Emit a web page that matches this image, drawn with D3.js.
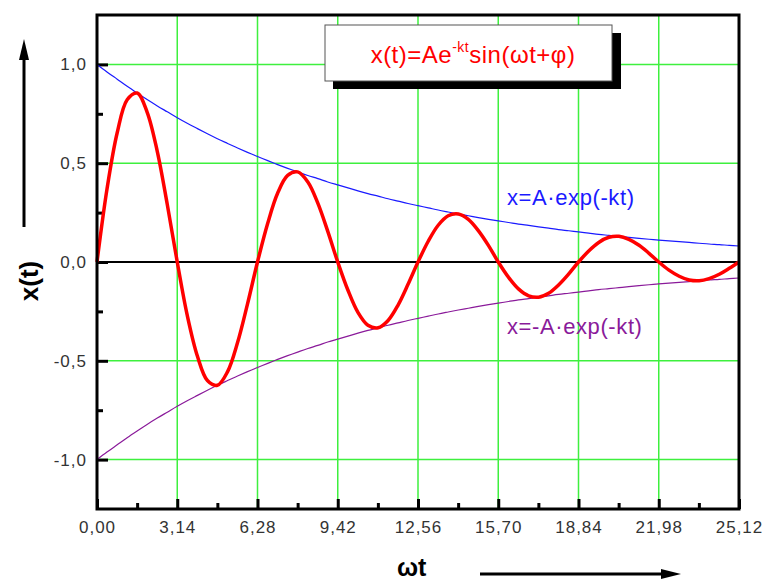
<!DOCTYPE html>
<html>
<head>
<meta charset="utf-8">
<script src="https://cdn.jsdelivr.net/npm/d3@7"></script>
<style>
  body { margin: 0; background: #fff; }
  svg { display: block; font-family: Arial, "Liberation Sans", sans-serif; }
  .tick text { font-size: 17px; letter-spacing: 1px; font-family: Arial, "Liberation Sans", sans-serif; }
</style>
</head>
<body>
<div id="chart"></div>
<script>
// sample points (omega*t)
var tVals = [0, 0.39, 0.79, 1.18, 1.57, 1.96, 2.36, 2.75, 3.14, 3.53, 3.93, 4.32, 4.71, 5.11, 5.50, 5.89,
  6.28, 6.68, 7.07, 7.46, 7.85, 8.25, 8.64, 9.03, 9.42, 9.82, 10.21, 10.60, 11.00, 11.39, 11.78, 12.17,
  12.56, 12.96, 13.35, 13.74, 14.14, 14.53, 14.92, 15.32, 15.70, 16.10, 16.49, 16.89, 17.28, 17.67, 18.06, 18.46,
  18.84, 19.24, 19.63, 20.03, 20.42, 20.81, 21.21, 21.60, 21.98, 22.38, 22.78, 23.17, 23.56, 23.95, 24.35, 24.74, 25.12];

// damped oscillation x(t)
var xVals = [0, 0.368, 0.654, 0.821, 0.855, 0.759, 0.559, 0.291, 0, -0.269, -0.477, -0.600, -0.624, -0.555, -0.408, -0.212,
  0, 0.196, 0.349, 0.438, 0.456, 0.405, 0.298, 0.155, 0, -0.143, -0.255, -0.320, -0.333, -0.296, -0.218, -0.113,
  0, 0.105, 0.186, 0.234, 0.243, 0.216, 0.159, 0.083, 0, -0.077, -0.136, -0.171, -0.178, -0.158, -0.116, -0.060,
  0, 0.056, 0.099, 0.125, 0.130, 0.115, 0.085, 0.044, 0, -0.041, -0.072, -0.091, -0.095, -0.084, -0.062, -0.032, 0];

// upper envelope A*exp(-kt)
var envVals = [1.000, 0.962, 0.925, 0.889, 0.855, 0.822, 0.790, 0.760, 0.730, 0.702, 0.675, 0.649, 0.624, 0.600, 0.577, 0.555,
  0.534, 0.513, 0.493, 0.474, 0.456, 0.438, 0.422, 0.405, 0.390, 0.375, 0.360, 0.346, 0.333, 0.320, 0.308, 0.296,
  0.285, 0.274, 0.263, 0.253, 0.243, 0.234, 0.225, 0.216, 0.208, 0.200, 0.192, 0.185, 0.178, 0.171, 0.164, 0.158,
  0.152, 0.146, 0.140, 0.135, 0.130, 0.125, 0.120, 0.115, 0.111, 0.107, 0.103, 0.099, 0.095, 0.091, 0.088, 0.084, 0.081];

// lower envelope -A*exp(-kt)
var negEnvVals = [-1.000, -0.962, -0.925, -0.889, -0.855, -0.822, -0.790, -0.760, -0.730, -0.702, -0.675, -0.649, -0.624, -0.600, -0.577, -0.555,
  -0.534, -0.513, -0.493, -0.474, -0.456, -0.438, -0.422, -0.405, -0.390, -0.375, -0.360, -0.346, -0.333, -0.320, -0.308, -0.296,
  -0.285, -0.274, -0.263, -0.253, -0.243, -0.234, -0.225, -0.216, -0.208, -0.200, -0.192, -0.185, -0.178, -0.171, -0.164, -0.158,
  -0.152, -0.146, -0.140, -0.135, -0.130, -0.125, -0.120, -0.115, -0.111, -0.107, -0.103, -0.099, -0.095, -0.091, -0.088, -0.084, -0.081];

var xTicks = [0, 3.14, 6.28, 9.42, 12.56, 15.70, 18.84, 21.98, 25.12];
var xMinorTicks = [1.57, 4.71, 7.85, 10.99, 14.13, 17.27, 20.41, 23.55];
var yTicks = [-1.0, -0.5, 0.0, 0.5, 1.0];
var yMinorTicks = [-0.75, -0.25, 0.25, 0.75];

var width = 764, height = 581;
var plotL = 97, plotR = 739, plotT = 15, plotB = 509;

var svg = d3.select("#chart").append("svg")
  .attr("width", width)
  .attr("height", height);

var x = d3.scaleLinear().domain([0, 25.12]).range([plotL, plotR]);
var y = d3.scaleLinear().domain([-1.25, 1.25]).range([plotB, plotT]);

// green grid
var grid = svg.append("g").attr("stroke", "#3ef03e").attr("stroke-width", 1.5);
grid.selectAll("line.v")
  .data(xTicks.slice(1, -1))
  .enter().append("line")
  .attr("x1", function(d) { return x(d); })
  .attr("x2", function(d) { return x(d); })
  .attr("y1", plotT).attr("y2", plotB);
grid.selectAll("line.h")
  .data(yTicks.filter(function(d) { return d != 0; }))
  .enter().append("line")
  .attr("y1", function(d) { return y(d); })
  .attr("y2", function(d) { return y(d); })
  .attr("x1", plotL).attr("x2", plotR);

// zero line
svg.append("line")
  .attr("x1", plotL).attr("x2", plotR)
  .attr("y1", y(0)).attr("y2", y(0))
  .attr("stroke", "#000").attr("stroke-width", 2);

var fmtX = function(d) { return d3.format(".2f")(d).replace(".", ","); };
var fmtY = function(d) { return d3.format(".1f")(d).replace(".", ",").replace("−", "-"); };

// axes with inward ticks
var xAxis = svg.append("g")
  .attr("transform", "translate(0," + plotB + ")")
  .call(d3.axisBottom(x).tickValues(xTicks).tickFormat(fmtX).tickSizeInner(-10).tickSizeOuter(0).tickPadding(12));
var xMinor = svg.append("g")
  .attr("transform", "translate(0," + plotB + ")")
  .call(d3.axisBottom(x).tickValues(xMinorTicks).tickFormat("").tickSizeInner(-6).tickSizeOuter(0));

var yAxis = svg.append("g")
  .attr("transform", "translate(" + plotL + ",0)")
  .call(d3.axisLeft(y).tickValues(yTicks).tickFormat(fmtY).tickSizeInner(-11).tickSizeOuter(0).tickPadding(10));
var yMinor = svg.append("g")
  .attr("transform", "translate(" + plotL + ",0)")
  .call(d3.axisLeft(y).tickValues(yMinorTicks).tickFormat("").tickSizeInner(-6).tickSizeOuter(0));

[xAxis, xMinor, yAxis, yMinor].forEach(function(g) {
  g.attr("font-size", 17).attr("font-family", "Arial, 'Liberation Sans', sans-serif");
  g.select(".domain").remove();
  g.selectAll(".tick line").attr("stroke", "#000").attr("stroke-width", 3);
  g.selectAll(".tick text").attr("fill", "#333").attr("font-size", 17);
});

// curves
var pts = function(vals) { return vals.map(function(v, i) { return [tVals[i], v]; }); };
var line = d3.line()
  .x(function(d) { return x(d[0]); })
  .y(function(d) { return y(d[1]); })
  .curve(d3.curveCatmullRom);

svg.append("path").attr("d", line(pts(envVals)))
  .attr("fill", "none").attr("stroke", "#1a1aff").attr("stroke-width", 1.2);
svg.append("path").attr("d", line(pts(negEnvVals)))
  .attr("fill", "none").attr("stroke", "#8a1a9a").attr("stroke-width", 1.2);
svg.append("path").attr("d", line(pts(xVals)))
  .attr("fill", "none").attr("stroke", "#ff0000").attr("stroke-width", 3.5)
  .attr("stroke-linejoin", "round");

// frame
svg.append("rect")
  .attr("x", plotL).attr("y", plotT)
  .attr("width", plotR - plotL).attr("height", plotB - plotT)
  .attr("fill", "none").attr("stroke", "#000").attr("stroke-width", 3);

// formula box with shadow
svg.append("rect").attr("x", 333).attr("y", 33).attr("width", 288).attr("height", 56).attr("fill", "#000");
svg.append("rect").attr("x", 325).attr("y", 25).attr("width", 287).attr("height", 56)
  .attr("fill", "#fff").attr("stroke", "#555").attr("stroke-width", 1);
var title = svg.append("text")
  .attr("x", 473).attr("y", 63)
  .attr("text-anchor", "middle")
  .attr("fill", "#ff0000")
  .style("font-size", "24px")
  .style("letter-spacing", "0.5px");
title.append("tspan").text("x(t)=Ae");
title.append("tspan").attr("dy", -11).style("font-size", "14px").text("-kt");
title.append("tspan").attr("dy", 11).text("sin(ωt+φ)");

// envelope labels
svg.append("text").attr("x", 507).attr("y", 205)
  .attr("fill", "#1a1aff").style("font-size", "22px").style("letter-spacing", "0.6px")
  .text("x=A·exp(-kt)");
svg.append("text").attr("x", 507).attr("y", 334)
  .attr("fill", "#8a1a9a").style("font-size", "22px").style("letter-spacing", "0.6px")
  .text("x=-A·exp(-kt)");

// axis titles and arrows
svg.append("text")
  .attr("transform", "translate(38,281) rotate(-90)")
  .attr("text-anchor", "middle")
  .style("font-size", "26px").style("font-weight", "bold")
  .text("x(t)");
svg.append("line").attr("x1", 24).attr("x2", 24).attr("y1", 227).attr("y2", 55)
  .attr("stroke", "#000").attr("stroke-width", 3);
svg.append("path").attr("d", "M24,39 L19,60 L29,60 Z").attr("fill", "#000");

svg.append("text")
  .attr("x", 397).attr("y", 576)
  .style("font-size", "25px").style("font-weight", "bold")
  .text("ωt");
svg.append("line").attr("x1", 480).attr("x2", 665).attr("y1", 574).attr("y2", 574)
  .attr("stroke", "#000").attr("stroke-width", 3);
svg.append("path").attr("d", "M681,574 L661,569 L661,579 Z").attr("fill", "#000");
</script>
</body>
</html>
